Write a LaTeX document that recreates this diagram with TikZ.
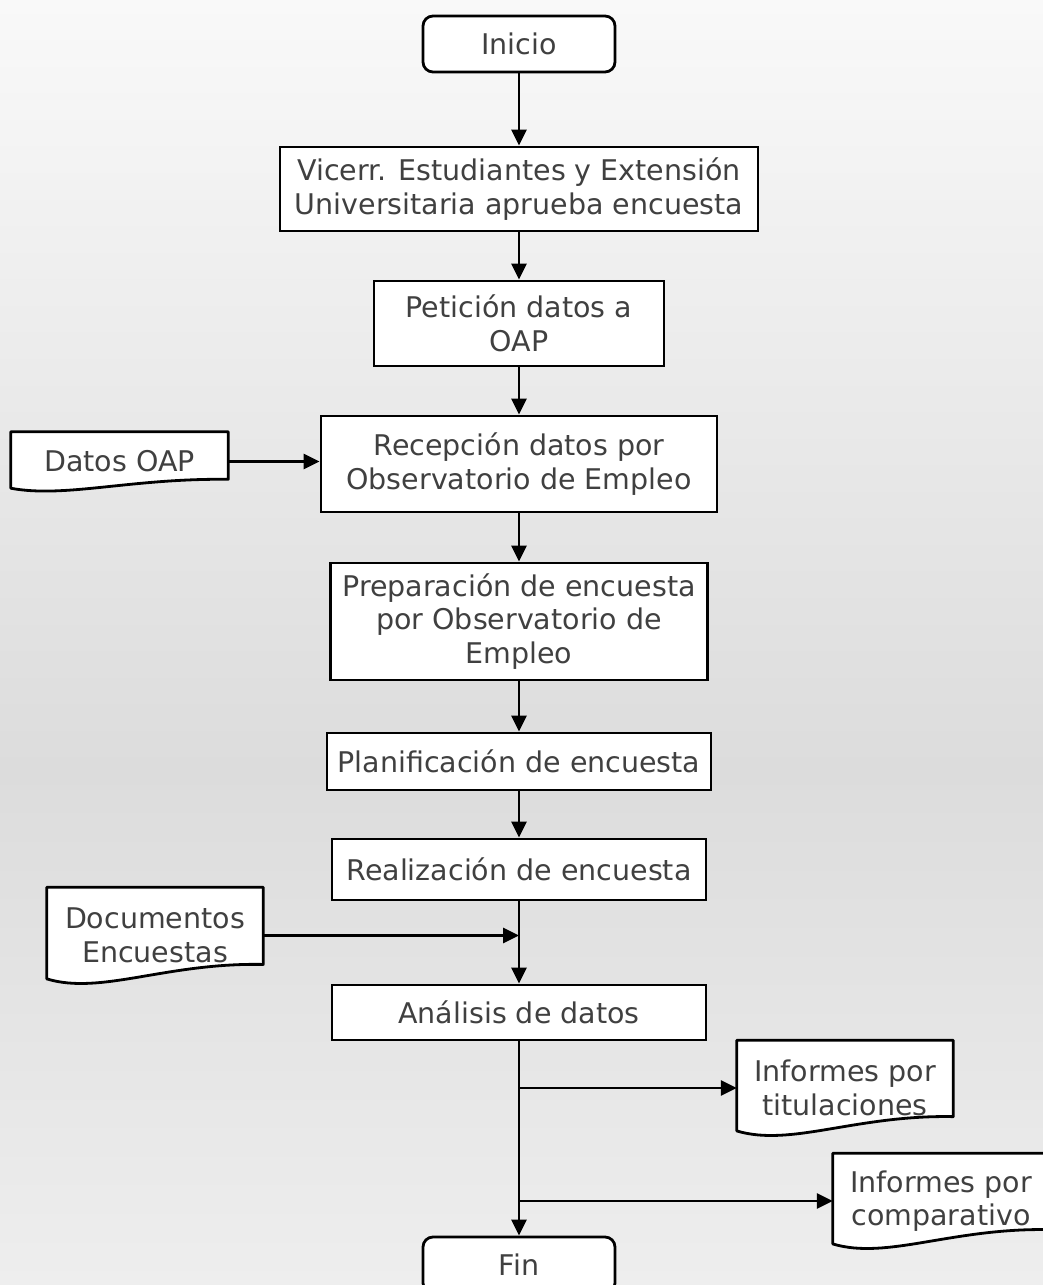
\documentclass[tikz,border=0pt]{standalone}
\usepackage{fontspec}
\setmainfont{DejaVu Sans}
\usetikzlibrary{arrows.meta,calc,positioning}

\definecolor{txtgray}{HTML}{404040}
\definecolor{bgtop}{HTML}{F9F9F9}
\definecolor{bgmid}{HTML}{DCDCDC}
\definecolor{bgbot}{HTML}{EEEEEE}

\pgfdeclarelayer{bg}
\pgfdeclarelayer{docs}
\pgfsetlayers{bg,docs,main}

% document symbol drawn round a named node
\newcommand{\docshape}[1]{%
  \path[docline] let \p1=(#1.north west), \p2=(#1.south east),
      \n1={\x2-\x1}, \n2={\y1-\y2} in
    (\p1) -- (\x2,\y1) -- (\x2,{\y1-0.8*\n2})
    .. controls ({\x1+0.55*\n1},{\y1-0.78*\n2}) and ({\x1+0.25*\n1},{\y1-1.12*\n2})
    .. (\x1,{\y1-0.95*\n2}) -- cycle;}

\begin{document}
\begin{tikzpicture}[x=1pt,y=-1pt,
    every node/.style={font=\fontsize{28.5}{33.5}\selectfont, text=txtgray, align=center},
    proc/.style={draw, line width=2.8pt, fill=white, inner sep=0pt},
    term/.style={proc, rounded corners=10pt, minimum width=192pt, minimum height=56pt},
    docu/.style={inner sep=0pt, minimum width=216pt},
    docline/.style={draw, line width=2.8pt, fill=white, line join=round},
    arr/.style={line width=2.8pt, -{Triangle[length=16pt,width=15pt]}}]

   \useasboundingbox (0,0) rectangle (1043,1285);
   \begin{pgfonlayer}{bg}
     \shade[top color=bgtop, bottom color=bgmid] (0,0) rectangle (1043,770);
     \shade[top color=bgmid, bottom color=bgbot] (0,770) rectangle (1043,1285);
   \end{pgfonlayer}

   % main column
   \node[term] (inicio) at (519,44) {Inicio};
   \node[proc, minimum width=478pt, minimum height=84pt] (vicerr) at (519,189)
      {Vicerr. Estudiantes y Extensión\\Universitaria aprueba encuesta};
   \node[proc, minimum width=290pt, minimum height=85pt] (peticion) at (519,323.5)
      {Petición datos a\\OAP};
   \node[proc, minimum width=396pt, minimum height=96pt] (recepcion) at (519,464)
      {Recepción datos por\\Observatorio de Empleo};
   \node[proc, minimum width=377pt, minimum height=117pt] (prep) at (519,621.5)
      {Preparación de encuesta\\por Observatorio de\\Empleo};
   \node[proc, minimum width=384pt, minimum height=57pt] (planif) at (519,761.5)
      {Planificación de encuesta};
   \node[proc, minimum width=374pt, minimum height=61pt] (realiz) at (519,869.5)
      {Realización de encuesta};
   \node[proc, minimum width=374pt, minimum height=55pt] (analisis) at (519,1012.5)
      {Análisis de datos};
   \node[term] (fin) at (519,1265) {Fin};

   % documents
   \node[docu, minimum width=217pt, minimum height=59pt] (datos) at (119.5,461.5) {Datos OAP};
   \node[docu, minimum height=96pt] (docs) at (155,935.5) {Documentos\\Encuestas};
   \node[docu, minimum height=95pt] (tit) at (845,1088) {Informes por\\titulaciones};
   \node[docu, minimum height=95pt] (comp) at (941,1201) {Informes por\\comparativo};
   \begin{pgfonlayer}{docs}
     \foreach \d in {datos,docs,tit,comp} {\docshape{\d}}
   \end{pgfonlayer}

   \coordinate (j1) at (realiz.south |- docs.east);
   \coordinate (j2) at (analisis.south |- tit.west);
   \coordinate (j3) at (analisis.south |- comp.west);

   \draw[arr] (inicio) -- (vicerr);
   \draw[arr] (vicerr) -- (peticion);
   \draw[arr] (peticion) -- (recepcion);
   \draw[arr] (datos) -- (datos -| recepcion.west);
   \draw[arr] (recepcion) -- (prep);
   \draw[arr] (prep) -- (planif);
   \draw[arr] (planif) -- (realiz);
   \draw[arr] (realiz) -- (analisis);
   \draw[arr] (docs) -- (j1);
   \draw[arr] (analisis) -- (fin);
   \draw[arr] (j2) -- (tit.west);
   \draw[arr] (j3) -- (comp.west);
\end{tikzpicture}
\end{document}
